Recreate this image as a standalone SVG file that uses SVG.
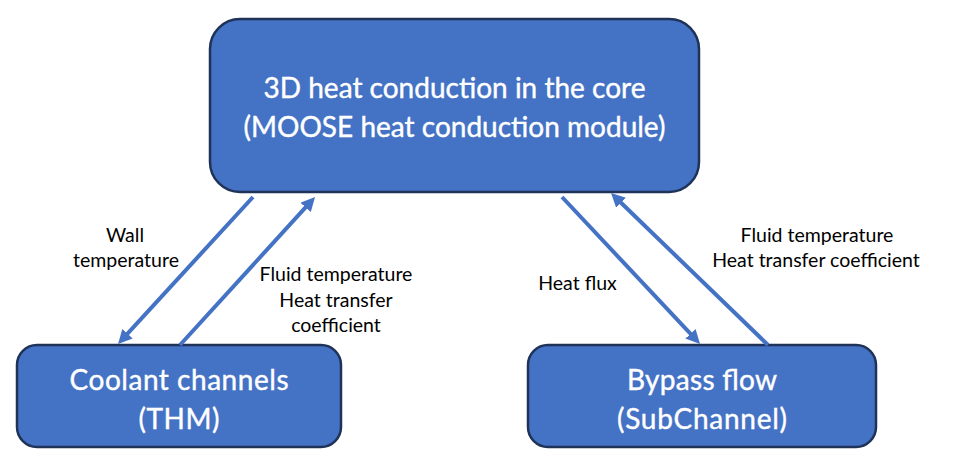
<svg xmlns="http://www.w3.org/2000/svg" width="963" height="473" viewBox="0 0 963 473">
<defs>
<style>
.box{fill:#4472C4;stroke:#1F3358;stroke-width:2.5}
.big{font-family:Lato,"Open Sans","Liberation Sans",sans-serif;fill:#ffffff;text-anchor:middle;font-size:28px;stroke:#ffffff;stroke-width:0.4}
.lbl{font-family:Lato,"Open Sans","Liberation Sans",sans-serif;fill:#000000;font-size:19.5px;text-anchor:middle}
.arr{stroke:#4472C4;stroke-width:4;fill:none;marker-end:url(#ah)}
</style>
<marker id="ah" markerUnits="userSpaceOnUse" markerWidth="14" markerHeight="14" refX="4" refY="7" orient="auto">
<path d="M0,0 L14,7 L0,14 z" fill="#4472C4"/>
</marker>
</defs>
<rect width="963" height="473" fill="#ffffff"/>
<g id="core">
<rect class="box" x="210" y="19" width="489" height="173" rx="30"/>
<text class="big" x="454.5" y="98" textLength="382">3D heat conduction in the core</text>
<text class="big" x="454.5" y="137" textLength="422">(MOOSE heat conduction module)</text>
</g>
<g id="coolant">
<rect class="box" x="17" y="345" width="324" height="102" rx="20"/>
<text class="big" x="179" y="390" textLength="219">Coolant channels</text>
<text class="big" x="179" y="429" textLength="81">(THM)</text>
</g>
<g id="bypass">
<rect class="box" x="528" y="345" width="348" height="102" rx="20"/>
<text class="big" x="702" y="390" textLength="150">Bypass flow</text>
<text class="big" x="702" y="429" textLength="170">(SubChannel)</text>
</g>
<g id="connectors">
<line class="arr" x1="253" y1="197" x2="124.8" y2="336.6"/>
<line class="arr" x1="180" y1="345" x2="308.3" y2="204.4"/>
<line class="arr" x1="562" y1="197" x2="693.2" y2="336.7"/>
<line class="arr" x1="768" y1="345" x2="618.2" y2="200"/>
</g>
<g id="labels">
<text class="lbl" x="125" y="242">Wall</text>
<text class="lbl" x="126" y="267">temperature</text>
<text class="lbl" x="336" y="281">Fluid temperature</text>
<text class="lbl" x="336" y="307">Heat transfer</text>
<text class="lbl" x="336" y="332">coefficient</text>
<text class="lbl" x="577.5" y="290">Heat flux</text>
<text class="lbl" x="817" y="242">Fluid temperature</text>
<text class="lbl" x="816" y="267">Heat transfer coefficient</text>
</g>
</svg>
